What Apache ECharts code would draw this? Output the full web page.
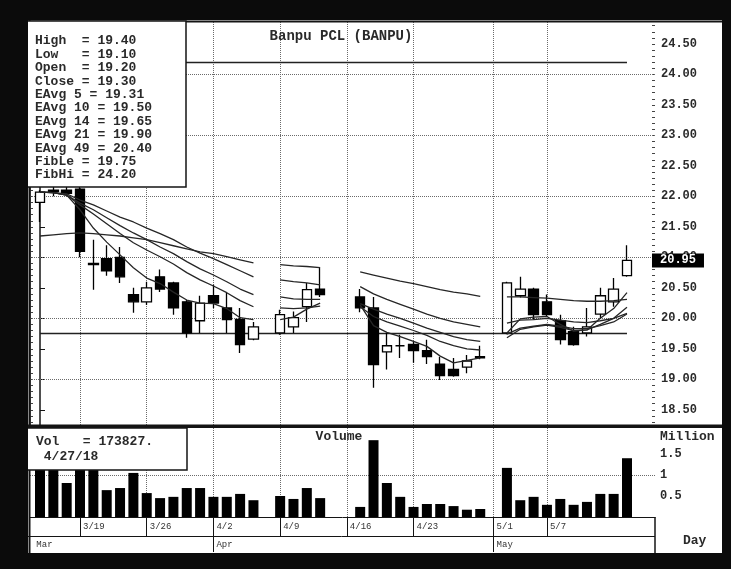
<!DOCTYPE html>
<html><head><meta charset="utf-8">
<script src="https://cdn.jsdelivr.net/npm/echarts@6/dist/echarts.min.js"></script>
<style>html,body{margin:0;padding:0;background:#fff}#c{width:731px;height:569px}</style>
</head><body><div id="c"></div>
<script>
// ---------- data (weekday slots; null = market holiday) ----------
const dates = ['3/14','3/15','3/16','3/19','3/20','3/21','3/22','3/23','3/26','3/27','3/28','3/29','3/30','4/2','4/3','4/4','4/5','4/6','4/9','4/10','4/11','4/12','4/13','4/16','4/17','4/18','4/19','4/20','4/23','4/24','4/25','4/26','4/27','4/30','5/1','5/2','5/3','5/4','5/7','5/8','5/9','5/10','5/11','5/14','5/15'];
const opens  = [21.90,22.08,22.10,22.12,20.90,20.98,21.00,20.39,20.27,20.68,20.58,20.27,19.96,20.37,20.17,19.98,19.66,null,19.76,19.86,20.19,20.48,null,null,20.35,20.17,19.45,19.55,19.57,19.47,19.25,19.16,19.20,19.35,null,19.76,20.37,20.48,20.27,19.96,19.78,19.76,20.07,20.27,20.70];
const closes = [22.07,22.10,22.05,21.10,20.88,20.78,20.68,20.27,20.50,20.48,20.17,19.76,20.25,20.25,19.98,19.57,19.86,null,20.06,20.01,20.47,20.39,null,null,20.17,19.24,19.55,19.55,19.47,19.37,19.06,19.06,19.30,19.37,null,20.58,20.48,20.06,20.06,19.65,19.57,19.86,20.37,20.48,20.95];
const lows   = [21.58,22.00,22.00,21.00,20.47,20.70,20.58,20.09,20.22,20.43,20.06,19.68,19.76,20.17,19.76,19.43,19.64,null,19.73,19.76,19.94,20.35,null,null,20.10,18.86,19.16,19.35,19.27,19.25,18.99,19.04,19.10,19.33,null,19.74,20.34,19.98,20.02,19.57,19.55,19.70,20.00,20.19,20.68];
const highs  = [22.10,22.35,22.30,22.20,21.29,21.20,21.17,20.50,20.60,20.80,20.60,20.30,20.37,20.55,20.42,20.17,19.94,null,20.14,20.11,20.58,20.83,null,null,20.48,20.35,19.76,19.73,19.62,19.65,19.37,19.35,19.40,19.55,null,20.60,20.68,20.50,20.39,20.06,19.86,20.17,20.50,20.66,21.20];
const volumes = [1.30,1.30,0.81,1.40,1.30,0.64,0.69,1.05,0.57,0.45,0.48,0.69,0.69,0.48,0.48,0.55,0.40,null,0.50,0.43,0.69,0.45,null,null,0.24,1.83,0.81,0.48,0.24,0.31,0.31,0.26,0.173827,0.19,null,1.17,0.40,0.48,0.29,0.43,0.29,0.36,0.55,0.55,1.40];
const ema5  = [22.07,22.06,22.02,21.78,21.48,21.25,21.04,20.83,20.66,20.57,20.43,20.30,20.25,20.24,20.16,20.01,19.98,null,19.98,20.02,20.15,20.25,null,null,20.22,19.88,19.77,19.70,19.62,19.54,19.38,19.27,19.31,19.35,null,19.76,19.99,20.02,20.03,19.90,19.79,19.81,20.00,20.16,20.42];
const ema10 = [22.07,22.06,22.02,21.86,21.71,21.55,21.39,21.24,21.12,21.01,20.89,20.75,20.63,20.53,20.42,20.29,20.19,null,20.17,20.16,20.17,20.20,null,null,20.19,20.03,19.94,19.87,19.80,19.72,19.62,19.55,19.50,19.48,null,19.68,19.82,19.86,19.89,19.85,19.80,19.81,19.90,20.00,20.18];
const ema14 = [22.07,22.06,22.02,21.89,21.78,21.65,21.52,21.40,21.29,21.17,21.06,20.93,20.81,20.71,20.60,20.48,20.39,null,20.35,20.32,20.31,20.31,null,null,20.24,20.15,20.07,20.00,19.92,19.84,19.77,19.70,19.65,19.62,null,19.74,19.84,19.87,19.90,19.87,19.83,19.83,19.88,19.94,20.07];
const ema21 = [22.07,22.06,22.04,21.94,21.86,21.76,21.66,21.58,21.48,21.39,21.29,21.17,21.07,20.98,20.88,20.78,20.68,null,20.63,20.60,20.58,20.55,null,null,20.52,20.40,20.31,20.23,20.15,20.07,20.00,19.94,19.90,19.86,null,19.92,19.97,19.98,20.00,19.97,19.94,19.93,19.96,20.00,20.08];
const ema49 = [21.35,21.37,21.39,21.40,21.39,21.37,21.35,21.32,21.29,21.24,21.19,21.14,21.09,21.06,21.01,20.96,20.91,null,20.88,20.86,20.85,20.83,null,null,20.76,20.71,20.66,20.61,20.57,20.52,20.47,20.43,20.40,20.36,null,20.35,20.35,20.34,20.33,20.31,20.29,20.28,20.28,20.29,20.31];
const fibLe = 19.75, fibHi = 24.20;
const weekLabels = ['3/19','3/26','4/2','4/9','4/16','4/23','5/1','5/7'];
const monthLabels = ['Mar','Apr','May'];
const monthStartDates = ['4/2','5/1'];
const priceTicks = [18.5,19.0,19.5,20.0,20.5,21.0,21.5,22.0,22.5,23.0,23.5,24.0,24.5];
const priceGridLines = [19,20,21,22,23,24];
const volTicks = [0.5,1,1.5];
const volGridLines = [1];
const infoDate = '4/27';
const title = 'Banpu PCL (BANPU)';

// ---------- build ----------
const X_MIN = -0.75, X_MAX = 46.1;
const P_MIN = 18.25, P_MAX = 24.86;
const V_MIN = 0, V_MAX = 2.12;
const mono = '"Liberation Mono","DejaVu Sans Mono",monospace';
const ink = '#141414';

const weekIdx = weekLabels.map(l => dates.indexOf(l));
const monthTickIdx = monthStartDates.map(l => dates.indexOf(l));
const monthLabelPos = [X_MIN + 0.25].concat(monthTickIdx);
const minorP = []; for (let v = 18.3; v < 24.85; v += 0.1) minorP.push(Math.round(v * 10) / 10);
const minorV = []; for (let v = 0.1; v < 2.1; v += 0.1) minorV.push(Math.round(v * 10) / 10);

const candles = [];
const vols = [];
dates.forEach((d, i) => {
  if (opens[i] != null) candles.push([i, opens[i], closes[i], lows[i], highs[i]]);
  if (volumes[i] != null) vols.push([i, volumes[i]]);
});
const lineData = arr => arr.map((v, i) => [i, v == null ? '-' : v]);
const k = dates.indexOf(infoDate);
const last = dates.length - 1;

const infoLines = [
  'High  = ' + highs[k].toFixed(2),
  'Low   = ' + lows[k].toFixed(2),
  'Open  = ' + opens[k].toFixed(2),
  'Close = ' + closes[k].toFixed(2),
  'EAvg 5 = ' + ema5[k].toFixed(2),
  'EAvg 10 = ' + ema10[k].toFixed(2),
  'EAvg 14 = ' + ema14[k].toFixed(2),
  'EAvg 21 = ' + ema21[k].toFixed(2),
  'EAvg 49 = ' + ema49[k].toFixed(2),
  'FibLe = ' + fibLe.toFixed(2),
  'FibHi = ' + fibHi.toFixed(2)
];
const volText = 'Vol   = ' + Math.round(volumes[k] * 1e6) + '.\n ' + infoDate + '/18';

const emaLine = (name, arr) => ({
  name, type: 'line', xAxisIndex: 0, yAxisIndex: 0, data: lineData(arr),
  symbol: 'none', showSymbol: false, connectNulls: false, silent: true, z: 3,
  lineStyle: { color: '#262626', width: 1.3 }
});
const dotted = { type: 'dotted', color: '#6a6a6a', width: 1 };
const txt = (size, bold) => (bold ? 'bold ' : '') + size + 'px ' + mono;

const chart = echarts.init(document.getElementById('c'), null, { renderer: 'canvas' });
chart.setOption({
  backgroundColor: '#ffffff',
  animation: false,
  grid: [
    { left: 30, right: 76, top: 22, height: 403, containLabel: false, outerBoundsMode: 'none' },
    { left: 30, right: 76, top: 428, height: 89, containLabel: false, outerBoundsMode: 'none' }
  ],
  xAxis: [
    { type: 'value', gridIndex: 0, min: X_MIN, max: X_MAX, show: false },
    { type: 'value', gridIndex: 1, min: X_MIN, max: X_MAX, position: 'bottom',
      axisLine: { show: true, lineStyle: { color: ink, width: 1 } },
      axisTick: { show: true, customValues: weekIdx, length: 19, lineStyle: { color: ink, width: 1 } },
      axisLabel: { show: true, customValues: weekIdx, formatter: v => dates[Math.round(v)],
        align: 'left', padding: [0, 0, 0, 3], margin: 5, fontFamily: mono, fontSize: 9, color: '#333' },
      splitLine: { show: false } },
    { type: 'value', gridIndex: 1, min: X_MIN, max: X_MAX, position: 'bottom',
      axisLine: { show: false },
      axisTick: { show: true, customValues: monthTickIdx, length: 35, lineStyle: { color: ink, width: 1 } },
      axisLabel: { show: true, customValues: monthLabelPos,
        formatter: v => { const j = monthLabelPos.findIndex(p => Math.abs(p - v) < 0.01); return j >= 0 ? monthLabels[j] : ''; },
        align: 'left', padding: [0, 0, 0, 3], margin: 23, fontFamily: mono, fontSize: 9, color: '#333' },
      splitLine: { show: false } }
  ],
  yAxis: [
    { type: 'value', gridIndex: 0, position: 'right', min: P_MIN, max: P_MAX,
      axisLine: { show: true, lineStyle: { color: ink, width: 1.5 } },
      axisTick: { show: true, customValues: priceTicks, length: 5, lineStyle: { color: ink } },
      axisLabel: { show: true, customValues: priceTicks, formatter: v => v.toFixed(2), margin: 6,
        fontFamily: mono, fontSize: 12, fontWeight: 'bold', color: '#2a2a2a' },
      splitLine: { show: false } },
    { type: 'value', gridIndex: 0, position: 'right', min: P_MIN, max: P_MAX,
      axisLine: { show: false },
      axisTick: { show: true, inside: true, customValues: minorP, length: 3, lineStyle: { color: '#444' } },
      axisLabel: { show: false }, splitLine: { show: false } },
    { type: 'value', gridIndex: 0, position: 'left', min: P_MIN, max: P_MAX,
      axisLine: { show: true, lineStyle: { color: ink, width: 1.5 } },
      axisTick: { show: true, inside: true, customValues: minorP, length: 3, lineStyle: { color: '#444' } },
      axisLabel: { show: false }, splitLine: { show: false } },
    { type: 'value', gridIndex: 1, position: 'right', min: V_MIN, max: V_MAX,
      axisLine: { show: true, lineStyle: { color: ink, width: 1.5 } },
      axisTick: { show: true, customValues: volTicks, length: 4, lineStyle: { color: ink } },
      axisLabel: { show: true, customValues: volTicks, formatter: v => String(v), margin: 5,
        fontFamily: mono, fontSize: 12, fontWeight: 'bold', color: '#2a2a2a' },
      splitLine: { show: false } },
    { type: 'value', gridIndex: 1, position: 'left', min: V_MIN, max: V_MAX,
      axisLine: { show: true, lineStyle: { color: ink, width: 1.5 } },
      axisTick: { show: true, inside: true, customValues: minorV, length: 3, lineStyle: { color: '#444' } },
      axisLabel: { show: false }, splitLine: { show: false } }
  ],
  series: [
    { name: 'price', type: 'candlestick', xAxisIndex: 0, yAxisIndex: 0, data: candles, barWidth: 10, z: 2,
      silent: true,
      itemStyle: { color: '#ffffff', color0: '#000000', borderColor: '#000000', borderColor0: '#000000',
        borderColorDoji: '#000000', borderWidth: 1.3 },
      markLine: { silent: true, z: 1, symbol: ['none', 'none'], label: { show: false },
        lineStyle: dotted, animation: false,
        data: priceGridLines.map(v => ({ yAxis: v }))
          .concat(weekIdx.map(i => ({ xAxis: i })))
          .concat([
            [{ coord: [0, fibHi], lineStyle: { type: 'solid', color: '#222', width: 1.3 } }, { coord: [last, fibHi] }],
            [{ coord: [0, fibLe], lineStyle: { type: 'solid', color: '#222', width: 1.3 } }, { coord: [last, fibLe] }]
          ]) },
      markPoint: { silent: true, animation: false,
        data: [{ coord: [last, closes[last]], symbol: 'rect', symbolSize: [52, 14], symbolOffset: [51, 0],
          itemStyle: { color: '#000' },
          label: { show: true, position: 'inside', formatter: closes[last].toFixed(2), color: '#fff',
            fontFamily: mono, fontSize: 12, fontWeight: 'bold' } }] } },
    emaLine('EAvg 5', ema5),
    emaLine('EAvg 10', ema10),
    emaLine('EAvg 14', ema14),
    emaLine('EAvg 21', ema21),
    emaLine('EAvg 49', ema49),
    { name: 'Volume', type: 'bar', xAxisIndex: 1, yAxisIndex: 3, data: vols, barWidth: 10, z: 2, silent: true,
      itemStyle: { color: '#000' },
      markLine: { silent: true, z: 1, symbol: ['none', 'none'], label: { show: false }, lineStyle: dotted, animation: false,
        data: volGridLines.map(v => ({ yAxis: v })).concat(weekIdx.map(i => ({ xAxis: i }))) } }
  ],
  graphic: [
    // panel frame
    { type: 'line', z: 60, shape: { x1: 28, y1: 21.5, x2: 722, y2: 21.5 }, style: { stroke: ink, lineWidth: 2 } },
    { type: 'rect', z: 60, shape: { x: 28, y: 424.5, width: 694, height: 3.5 }, style: { fill: ink } },
    { type: 'line', z: 60, shape: { x1: 29.5, y1: 20, x2: 29.5, y2: 553 }, style: { stroke: ink, lineWidth: 2 } },
    { type: 'line', z: 60, shape: { x1: 655, y1: 517, x2: 655, y2: 553 }, style: { stroke: ink, lineWidth: 1.5 } },
    { type: 'line', z: 60, shape: { x1: 28, y1: 536.5, x2: 655, y2: 536.5 }, style: { stroke: ink, lineWidth: 1 } },
    // title texts
    { type: 'text', z: 60, style: { x: 341, y: 36, text: title, align: 'center', verticalAlign: 'middle',
      font: txt(14, true), fill: '#2a2a2a' } },
    { type: 'text', z: 60, style: { x: 339, y: 437, text: 'Volume', align: 'center', verticalAlign: 'middle',
      font: txt(13, true), fill: '#2a2a2a' } },
    { type: 'text', z: 60, style: { x: 660, y: 437, text: 'Million', align: 'left', verticalAlign: 'middle',
      font: txt(13, true), fill: '#2a2a2a' } },
    { type: 'text', z: 60, style: { x: 683, y: 541, text: 'Day', align: 'left', verticalAlign: 'middle',
      font: txt(13, true), fill: '#2a2a2a' } },
    // info box
    { type: 'rect', z: 70, shape: { x: 24, y: 21, width: 162, height: 166 },
      style: { fill: '#fff', stroke: ink, lineWidth: 1.5 } },
    { type: 'text', z: 71, style: { x: 35, y: 34.5, text: infoLines.join('\n'), lineHeight: 13.4,
      verticalAlign: 'top', align: 'left', font: txt(13, true), fill: '#2a2a2a' } },
    // volume box
    { type: 'rect', z: 70, shape: { x: 24, y: 428, width: 163, height: 42 },
      style: { fill: '#fff', stroke: ink, lineWidth: 1.5 } },
    { type: 'text', z: 71, style: { x: 36, y: 434, text: volText, lineHeight: 15,
      verticalAlign: 'top', align: 'left', font: txt(13, true), fill: '#2a2a2a' } },
    // outer black frame
    { type: 'rect', z: 100, shape: { x: 0, y: 0, width: 731, height: 20 }, style: { fill: '#0b0b0b' } },
    { type: 'rect', z: 100, shape: { x: 0, y: 0, width: 28, height: 569 }, style: { fill: '#0b0b0b' } },
    { type: 'rect', z: 100, shape: { x: 722, y: 0, width: 9, height: 569 }, style: { fill: '#0b0b0b' } },
    { type: 'rect', z: 100, shape: { x: 0, y: 553, width: 731, height: 16 }, style: { fill: '#0b0b0b' } }
  ]
});
</script>
</body></html>
